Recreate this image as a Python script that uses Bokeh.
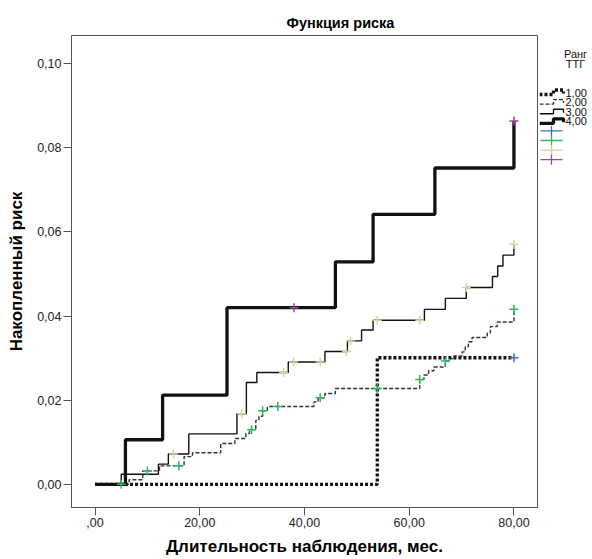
from bokeh.plotting import figure
from bokeh.models import Range1d, FixedTicker
from bokeh.layouts import row
from bokeh.embed import file_html
from bokeh.resources import INLINE
from bokeh.core.properties import value

FONT = "Liberation Sans"

# ---------------- data ----------------
x_ticks = [0, 20, 40, 60, 80]
x_tick_labels = [",00", "20,00", "40,00", "60,00", "80,00"]
y_ticks = [0.0, 0.02, 0.04, 0.06, 0.08, 0.10]
y_tick_labels = ["0,00", "0,02", "0,04", "0,06", "0,08", "0,10"]

groups = ["1,00", "2,00", "3,00", "4,00"]

# group 1,00 (cumulative hazard step function)
g1_t = [0.0, 53.9, 80.0]
g1_h = [0.0, 0.0301, 0.0301]
g1_cens_t = [80.0]
g1_cens_h = [0.0301]

# group 2,00
g2_t = [0.0, 6.5, 9.1, 12.3, 17.0, 18.6, 24.0, 26.7, 28.8, 29.5, 30.7, 31.3, 32.0,
        32.9, 41.8, 42.6, 43.9, 45.9, 62.0, 62.8, 63.7, 64.7, 66.9, 67.6, 68.5,
        70.1, 70.7, 71.3, 72.0, 74.9, 75.5, 76.8, 80.0]
g2_h = [0.0, 0.0011, 0.0032, 0.0044, 0.0066, 0.0075, 0.0097, 0.0109, 0.0121, 0.0130,
        0.0152, 0.0162, 0.0175, 0.0185, 0.0196, 0.0206, 0.0216, 0.0228, 0.0249,
        0.0260, 0.0270, 0.0279, 0.0293, 0.0299, 0.0305, 0.0315, 0.0327, 0.0339,
        0.0349, 0.0360, 0.0375, 0.0386, 0.0416]
g2_cens_t = [5.0, 10.0, 16.0, 29.9, 32.0, 34.9, 43.0, 53.9, 62.0, 66.9, 80.0]
g2_cens_h = [0.0, 0.0032, 0.0044, 0.0130, 0.0175, 0.0185, 0.0206, 0.0228, 0.0249,
             0.0293, 0.0416]

# group 3,00
g3_t = [0.0, 5.0, 12.1, 14.0, 17.9, 27.1, 28.9, 30.9, 36.9, 43.9, 48.2, 50.9, 53.1,
        62.9, 66.9, 70.9, 75.9, 76.9, 77.9, 80.0]
g3_h = [0.0, 0.0024, 0.0048, 0.0072, 0.0120, 0.0168, 0.0242, 0.0266, 0.0291, 0.0316,
        0.0341, 0.0367, 0.0390, 0.0416, 0.0442, 0.0468, 0.0494, 0.0519, 0.0545, 0.0571]
g3_cens_t = [15.0, 28.0, 36.0, 37.9, 43.0, 48.0, 48.8, 53.9, 62.0, 70.9, 80.0]
g3_cens_h = [0.0072, 0.0168, 0.0266, 0.0291, 0.0291, 0.0316, 0.0341, 0.0390, 0.0390,
             0.0468, 0.0571]

# group 4,00
g4_t = [0.0, 5.8, 12.9, 25.2, 45.9, 53.1, 64.9, 80.0]
g4_h = [0.0, 0.0106, 0.0212, 0.0420, 0.0529, 0.0642, 0.0752, 0.0864]
g4_cens_t = [38.0, 80.0]
g4_cens_h = [0.0420, 0.0864]

# ---------------- styles ----------------
line_styles = [
    dict(line_width=3.3, line_dash="3 2", line_color="#111111"),
    dict(line_width=1.4, line_dash="4 2", line_color="#333333"),
    dict(line_width=1.4, line_dash="solid", line_color="#111111"),
    dict(line_width=3.3, line_dash="solid", line_color="#111111"),
]
cens_colors = ["#3E6BC8", "#2EB85C", "#D6D29A", "#A0449A"]

series = [(g1_t, g1_h, g1_cens_t, g1_cens_h),
          (g2_t, g2_h, g2_cens_t, g2_cens_h),
          (g3_t, g3_h, g3_cens_t, g3_cens_h),
          (g4_t, g4_h, g4_cens_t, g4_cens_h)]

FRAME_TOP, FRAME_BOTTOM = 35, 507

# ---------------- main figure ----------------
p = figure(width=539, height=559, output_backend="svg", toolbar_location=None,
           x_range=Range1d(-4.5, 84.5), y_range=Range1d(-0.0055, 0.1067),
           min_border_left=71, min_border_right=2, min_border_top=FRAME_TOP,
           min_border_bottom=559 - FRAME_BOTTOM)
p.background_fill_color = "white"
p.border_fill_color = "white"
p.outline_line_color = "#555555"
p.outline_line_width = 1
p.xgrid.visible = False
p.ygrid.visible = False

p.title.text = "Функция риска"
p.title.align = "left"
p.title.offset = 215
p.title.text_font = FONT
p.title.text_font_size = "14.5px"
p.title.text_font_style = "bold"
p.title.text_color = "#000000"

p.xaxis.ticker = FixedTicker(ticks=x_ticks)
p.xaxis.major_label_overrides = {t: l for t, l in zip(x_ticks, x_tick_labels)}
p.yaxis.ticker = FixedTicker(ticks=y_ticks)
p.yaxis.major_label_overrides = {t: l for t, l in zip(y_ticks, y_tick_labels)}
p.xaxis.axis_label = "Длительность наблюдения, мес."
p.yaxis.axis_label = "Накопленный риск"
for ax in (p.xaxis[0], p.yaxis[0]):
    ax.axis_line_color = "#555555"
    ax.major_tick_line_color = "#555555"
    ax.minor_tick_line_color = None
    ax.major_tick_out = 8
    ax.major_tick_in = 0
    ax.major_label_standoff = 2
    ax.major_label_text_font = FONT
    ax.major_label_text_font_size = "12.5px"
    ax.major_label_text_color = "#222222"
    ax.axis_label_text_font = FONT
    ax.axis_label_text_font_size = "17px"
    ax.axis_label_text_font_style = "bold"
    ax.axis_label_text_color = "#000000"
p.xaxis[0].axis_label_standoff = 7
p.yaxis[0].axis_label_standoff = 8

for (t, h, ct, ch), st in zip(series, line_styles):
    p.step(t, h, mode="after", **st)
for (t, h, ct, ch), c in zip(series, cens_colors):
    p.scatter(ct, ch, marker="cross", size=9, line_width=1.5, line_color=c)

# ---------------- legend panel ----------------
# its frame is aligned with the main frame, so its y range is in page pixels
L_X0 = 539
lg = figure(width=53, height=559, output_backend="svg", toolbar_location=None,
            x_range=Range1d(L_X0, 592), y_range=Range1d(FRAME_BOTTOM, FRAME_TOP),
            min_border=0)
lg.axis.visible = False
lg.grid.visible = False
lg.outline_line_color = None
lg.title.visible = False

row_h = 9.6
y_first = 92
lg.text([575, 575], [53, 63.5], text=["Ранг", "ТТГ"], text_font=value(FONT),
        text_font_size="11px", text_align="center", text_baseline="middle",
        text_color="#111111")
for i, (name, st) in enumerate(zip(groups, line_styles)):
    yc = y_first + i * row_h
    xs = [L_X0, L_X0 + 14, L_X0 + 14, L_X0 + 24, L_X0 + 24]
    ys = [yc + 2, yc + 2, yc - 2.5, yc - 2.5, yc + 1]
    lg.line(xs, ys, **st)
    lg.text([L_X0 + 26], [yc], text=[name], text_font=value(FONT),
            text_font_size="11px", text_baseline="middle", text_color="#111111")
for j, c in enumerate(cens_colors):
    yc = y_first + (len(groups) + j) * row_h
    lg.segment([L_X0 + 1], [yc], [L_X0 + 23], [yc], line_color=c, line_width=1.3)
    lg.segment([L_X0 + 12], [yc - 5], [L_X0 + 12], [yc + 5], line_color=c, line_width=1.3)

layout = row(p, lg)
open("out.html", "w").write(file_html(layout, INLINE))
